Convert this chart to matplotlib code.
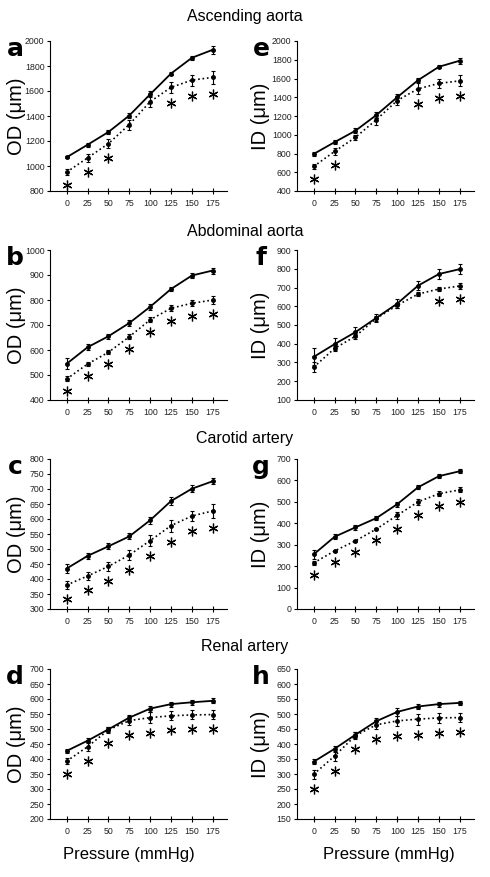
import numpy as np
import matplotlib.pyplot as plt
from matplotlib.transforms import offset_copy

plt.rcParams['font.family'] = ['Liberation Sans', 'DejaVu Sans']

pressure = [0, 25, 50, 75, 100, 125, 150, 175]

# a - ascending aorta, OD
asc_od_wt = [1070, 1170, 1272, 1404, 1574, 1740, 1866, 1930]
asc_od_wt_err = [8, 15, 15, 20, 25, 15, 15, 30]
asc_od_mut = [951, 1065, 1179, 1332, 1515, 1629, 1687, 1709]
asc_od_mut_err = [22, 30, 35, 40, 42, 46, 44, 50]
asc_od_sig = [1, 1, 1, 0, 0, 1, 1, 1]

# e - ascending aorta, ID
asc_id_wt = [795, 921, 1043, 1210, 1400, 1582, 1725, 1790]
asc_id_wt_err = [25, 20, 25, 30, 35, 20, 15, 30]
asc_id_mut = [662, 822, 972, 1160, 1365, 1490, 1548, 1575]
asc_id_mut_err = [30, 35, 30, 55, 50, 60, 50, 60]
asc_id_sig = [1, 1, 0, 0, 0, 1, 1, 1]

# b - abdominal aorta, OD
abd_od_wt = [545, 611, 655, 708, 773, 844, 898, 918]
abd_od_wt_err = [22, 12, 10, 12, 12, 10, 10, 12]
abd_od_mut = [484, 544, 591, 653, 721, 767, 787, 800]
abd_od_mut_err = [10, 8, 8, 10, 10, 12, 12, 15]
abd_od_sig = [1, 1, 1, 1, 1, 1, 1, 1]

# f - abdominal aorta, ID
abd_id_wt = [330, 398, 462, 538, 614, 710, 772, 798]
abd_id_wt_err = [45, 32, 28, 22, 25, 25, 25, 25]
abd_id_mut = [275, 375, 440, 535, 605, 665, 692, 708]
abd_id_mut_err = [25, 15, 12, 15, 15, 12, 12, 15]
abd_id_sig = [0, 0, 0, 0, 0, 0, 1, 1]

# c - carotid artery, OD
car_od_wt = [435, 477, 509, 542, 596, 660, 701, 726]
car_od_wt_err = [15, 10, 10, 10, 12, 14, 12, 10]
car_od_mut = [380, 410, 442, 480, 528, 578, 610, 627]
car_od_mut_err = [12, 13, 15, 16, 18, 20, 18, 22]
car_od_sig = [1, 1, 1, 1, 1, 1, 1, 1]

# g - carotid artery, ID
car_id_wt = [255, 337, 381, 424, 489, 568, 620, 643]
car_id_wt_err = [20, 12, 12, 10, 12, 10, 10, 8]
car_id_mut = [215, 271, 318, 373, 437, 500, 538, 556]
car_id_mut_err = [8, 5, 5, 6, 15, 15, 12, 12]
car_id_sig = [1, 1, 1, 1, 1, 1, 1, 1]

# d - renal artery, OD
ren_od_wt = [427, 461, 499, 538, 568, 583, 589, 594]
ren_od_wt_err = [8, 8, 8, 10, 10, 8, 8, 8]
ren_od_mut = [393, 441, 497, 528, 538, 544, 547, 548]
ren_od_mut_err = [10, 15, 10, 15, 18, 15, 15, 15]
ren_od_sig = [1, 1, 1, 1, 1, 1, 1, 1]

# h - renal artery, ID
ren_id_wt = [341, 384, 431, 476, 507, 525, 533, 537]
ren_id_wt_err = [8, 8, 10, 12, 12, 8, 8, 8]
ren_id_mut = [299, 360, 428, 464, 477, 483, 487, 488]
ren_id_mut_err = [15, 15, 12, 15, 18, 18, 18, 16]
ren_id_sig = [1, 1, 1, 1, 1, 1, 1, 1]

section_titles = ['Ascending aorta', 'Abdominal aorta', 'Carotid artery', 'Renal artery']

# letter, ylabel, ylim, ystep, wt, wt_err, mut, mut_err, sig
left_panels = [
    ('a', 'OD (\u03bcm)', (800, 2000), 200, asc_od_wt, asc_od_wt_err, asc_od_mut, asc_od_mut_err, asc_od_sig),
    ('b', 'OD (\u03bcm)', (400, 1000), 100, abd_od_wt, abd_od_wt_err, abd_od_mut, abd_od_mut_err, abd_od_sig),
    ('c', 'OD (\u03bcm)', (300, 800), 50, car_od_wt, car_od_wt_err, car_od_mut, car_od_mut_err, car_od_sig),
    ('d', 'OD (\u03bcm)', (200, 700), 50, ren_od_wt, ren_od_wt_err, ren_od_mut, ren_od_mut_err, ren_od_sig),
]
right_panels = [
    ('e', 'ID (\u03bcm)', (400, 2000), 200, asc_id_wt, asc_id_wt_err, asc_id_mut, asc_id_mut_err, asc_id_sig),
    ('f', 'ID (\u03bcm)', (100, 900), 100, abd_id_wt, abd_id_wt_err, abd_id_mut, abd_id_mut_err, abd_id_sig),
    ('g', 'ID (\u03bcm)', (0, 700), 100, car_id_wt, car_id_wt_err, car_id_mut, car_id_mut_err, car_id_sig),
    ('h', 'ID (\u03bcm)', (150, 650), 50, ren_id_wt, ren_id_wt_err, ren_id_mut, ren_id_mut_err, ren_id_sig),
]

W, H = 490, 877
fig = plt.figure(figsize=(W / 100, H / 100), dpi=100)

row_tops = [41, 250, 459, 669]
ax_h = 150
col_x = [50, 297]
ax_w = 177
letter_x = [15, 261]
ylabel_x = [17, 260]
title_y = [17, 231, 439, 647]


def draw_panel(ax, panel):
    letter, ylabel, ylim, ystep, wt, wt_err, mut, mut_err, sig = panel
    ax.errorbar(pressure, wt, yerr=wt_err, color='black', lw=1.3, marker='o', ms=2.5,
                elinewidth=0.8, capsize=1.6, capthick=0.8)
    ax.errorbar(pressure, mut, yerr=mut_err, color='black', lw=1.2, ls=':', marker='o', ms=2.5,
                elinewidth=0.8, capsize=1.6, capthick=0.8)
    # significance stars under the dotted series
    star_tr = offset_copy(ax.transData, fig=fig, y=-10, units='dots')
    p = np.array(pressure)
    low = np.array(mut) - np.array(mut_err)
    s = np.array(sig, dtype=bool)
    ax.plot(p[s], low[s], ls='none', marker=(6, 2, 0), ms=7, mew=0.9, color='black',
            transform=star_tr, clip_on=False)
    ax.set_xlim(-20, 192)
    ax.set_ylim(*ylim)
    ax.set_xticks(pressure)
    ax.set_yticks(np.arange(ylim[0], ylim[1] + 1, ystep))
    for side in ['top', 'right']:
        ax.spines[side].set_visible(False)
    for side in ['left', 'bottom']:
        ax.spines[side].set_linewidth(0.8)
    ax.tick_params(axis='y', direction='out', length=2.5, width=0.8, pad=1.5,
                   labelsize=6.3, labelcolor='#222222')
    ax.tick_params(axis='x', direction='inout', length=4, width=0.8, pad=3.5,
                   labelsize=6.3, labelcolor='#222222')


for col, panels in enumerate([left_panels, right_panels]):
    for row, panel in enumerate(panels):
        top = row_tops[row]
        ax = fig.add_axes([col_x[col] / W, 1 - (top + ax_h) / H, ax_w / W, ax_h / H])
        draw_panel(ax, panel)
        fig.text(letter_x[col] / W, 1 - (top - 4) / H, panel[0], fontsize=18, fontweight='bold',
                 ha='center', va='top', family=['DejaVu Sans'])
        fig.text(ylabel_x[col] / W, 1 - (top + ax_h / 2) / H, panel[1], fontsize=14.5,
                 rotation=90, ha='center', va='center')

for row, title in enumerate(section_titles):
    fig.text(0.5, 1 - title_y[row] / H, title, fontsize=11.5, ha='center', va='center')

fig.text(129 / W, 1 - 855 / H, 'Pressure (mmHg)', fontsize=12, ha='center', va='center')
fig.text(389 / W, 1 - 855 / H, 'Pressure (mmHg)', fontsize=12, ha='center', va='center')

fig.savefig('out.png', dpi=100)
